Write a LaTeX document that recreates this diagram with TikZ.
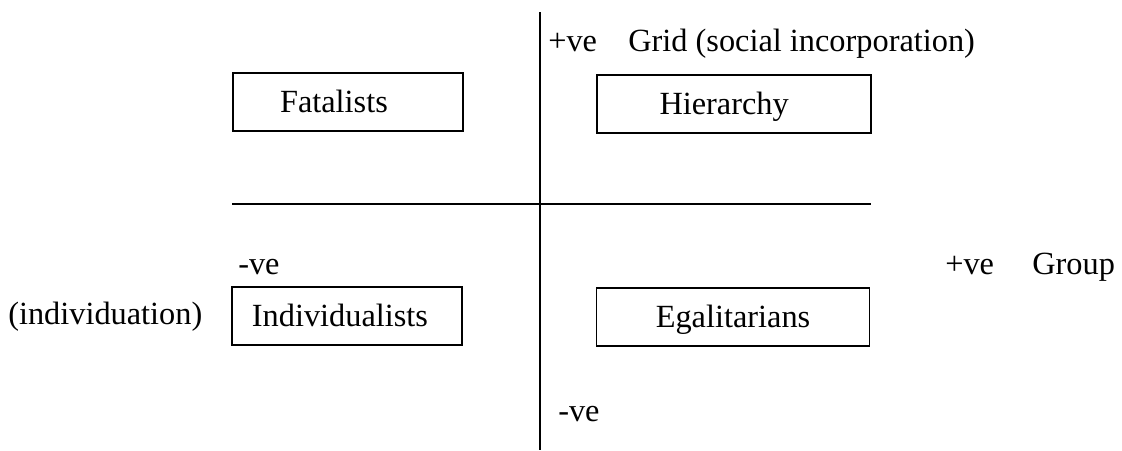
\documentclass[tikz,border=0pt]{standalone}
\usepackage{fontspec}
\setmainfont{Liberation Serif}
\usetikzlibrary{positioning}
\tikzset{
quad/.style={draw=black,line width=1.2pt,minimum height=58*0.025cm,inner sep=0pt,
  text height=18pt,text depth=3pt,font=\fontsize{23}{27}\selectfont},
axis/.style={draw=black,line width=1.2pt},
lbl/.style={anchor=base west,inner sep=0pt,font=\fontsize{23}{27}\selectfont}
}
\begin{document}
\begin{tikzpicture}[x=0.025cm,y=-0.025cm]
\useasboundingbox (0,0) rectangle (1122,450);
% axes
\coordinate (gridtop) at (540,12);
\coordinate (gridbot) at (540,450);
\coordinate (grpleft) at (232,204);
\coordinate (grpright) at (871,204);
\draw[axis] (gridtop) -- (gridbot);
\draw[axis] (grpleft) -- (grpright);
% the four cultures
\node[quad,minimum width=230*0.025cm] (fatal) at (348,102) {Fatalists\hspace*{20pt}};
\node[quad,minimum width=274*0.025cm] (hier) at (734,104) {Hierarchy\hspace*{14pt}};
\node[quad,minimum width=230*0.025cm] (indiv) at (347,316) {Individualists\hspace*{10pt}};
\node[quad,minimum width=273*0.025cm] (egal) at (733,317) {Egalitarians};
% axis labels
\node[lbl] (gridplus) at (548,51) {+ve};
\node[lbl] (gridname) at (628,51) {Grid (social incorporation)};
\node[lbl] (grpminus) at (238,274) {-ve};
\node[lbl] (grpplus) at (945,274) {+ve};
\node[lbl] (grpname) at (1032,274) {Group};
\node[lbl] (indivnote) at (8,324) {(individuation)};
\node[lbl] (gridminus) at (558,421) {-ve};
\end{tikzpicture}
\end{document}
